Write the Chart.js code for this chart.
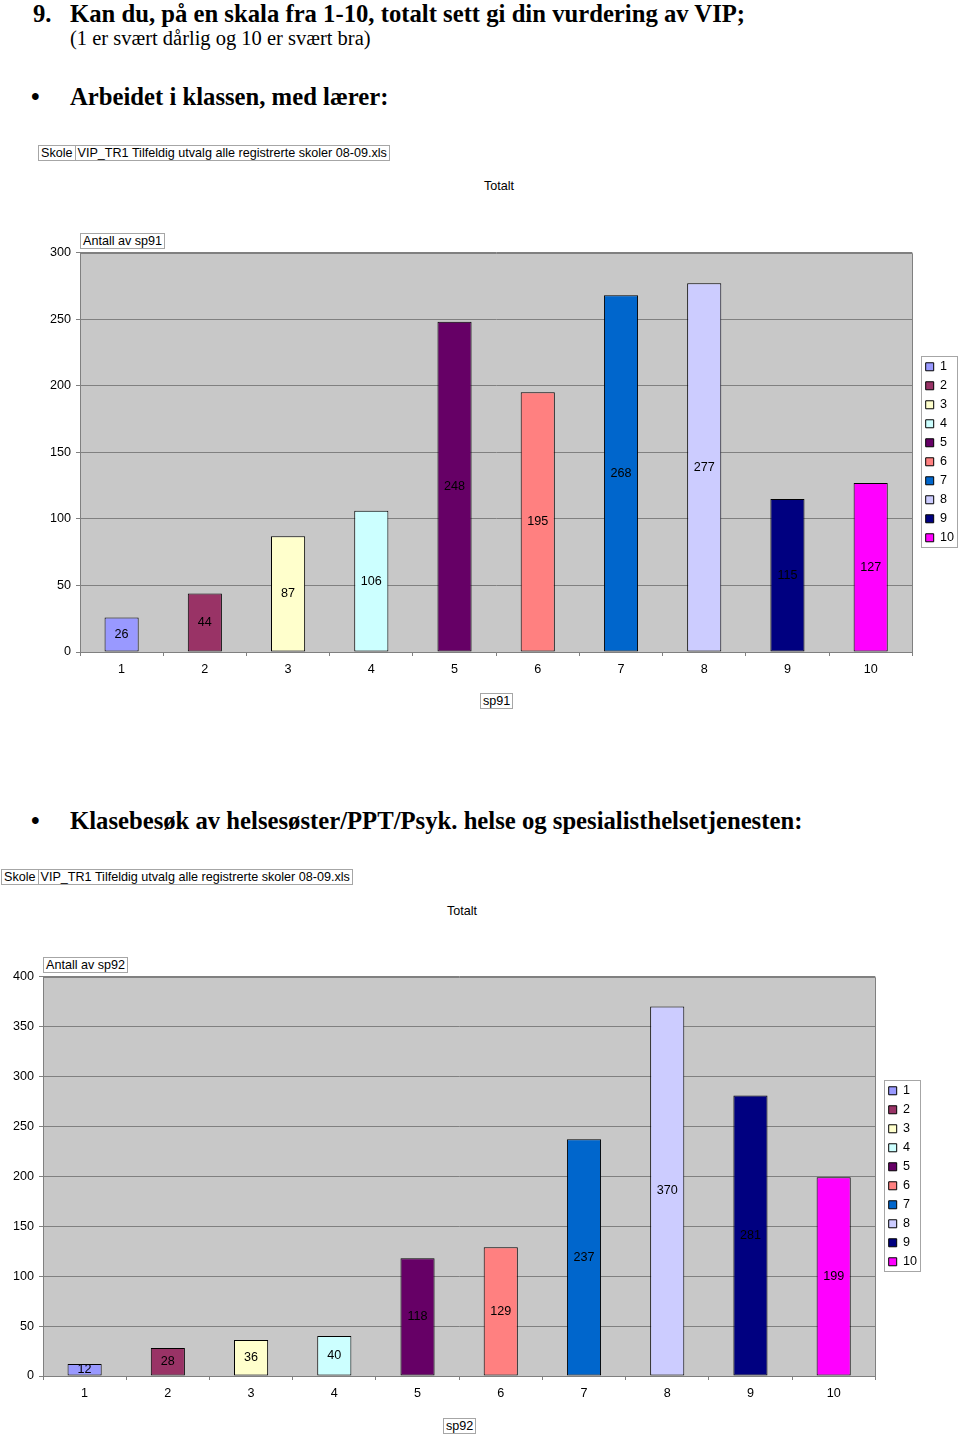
<!DOCTYPE html>
<html>
<head>
<meta charset="utf-8">
<script src="https://cdn.jsdelivr.net/npm/chart.js@4.4.1/dist/chart.umd.min.js"></script>
<style>
  html, body { margin: 0; padding: 0; background: #fff; }
  body { width: 960px; height: 1438px; position: relative; overflow: hidden;
         font-family: "Liberation Sans", Arial, sans-serif; font-size: 12.6px; color: #000; }
  .abs { position: absolute; white-space: nowrap; }
  .serif { font-family: "Liberation Serif", "Times New Roman", serif; }
  .head { font-weight: bold; font-size: 24.7px; line-height: 24px; }
  .sub { font-size: 20.5px; line-height: 20px; }
  .cell { border: 1px solid #a6a6a6; padding: 0 2px; line-height: 14px; height: 14px; background: #fff; }
  .row { display: flex; }
  .row .cell + .cell { border-left: none; }
  canvas { position: absolute; }
</style>
</head>
<body>

<div class="abs serif head" style="left:33px; top:2px;">9.</div>
<div class="abs serif head" style="left:70px; top:2px;">Kan du, på en skala fra 1-10, totalt sett gi din vurdering av VIP;</div>
<div class="abs serif sub" style="left:70px; top:28px;">(1 er svært dårlig og 10 er svært bra)</div>

<div class="abs serif head" style="left:31px; top:85px;">•</div>
<div class="abs serif head" style="left:70px; top:85px;">Arbeidet i klassen, med lærer:</div>

<div class="abs row" style="left:38px; top:145px;"><span class="cell">Skole</span><span class="cell">VIP_TR1 Tilfeldig utvalg alle registrerte skoler 08-09.xls</span></div>
<div class="abs" style="left:499px; top:179px; transform:translateX(-50%);">Totalt</div>

<canvas id="chart1" width="970" height="450" style="left:0; top:240px;"></canvas>
<div class="abs cell" style="left:80px; top:233px;">Antall av sp91</div>
<div class="abs cell" style="left:480px; top:693px;">sp91</div>

<div class="abs serif head" style="left:31px; top:809px;">•</div>
<div class="abs serif head" style="left:70px; top:809px;">Klasebesøk av helsesøster/PPT/Psyk. helse og spesialisthelsetjenesten:</div>

<div class="abs row" style="left:1px; top:869px;"><span class="cell">Skole</span><span class="cell">VIP_TR1 Tilfeldig utvalg alle registrerte skoler 08-09.xls</span></div>
<div class="abs" style="left:462px; top:904px; transform:translateX(-50%);">Totalt</div>

<canvas id="chart2" width="933" height="450" style="left:0; top:964px;"></canvas>
<div class="abs cell" style="left:43px; top:957px;">Antall av sp92</div>
<div class="abs cell" style="left:443px; top:1418px;">sp92</div>

<script>
const categories = ['1', '2', '3', '4', '5', '6', '7', '8', '9', '10'];
const sp91Values = [26, 44, 87, 106, 248, 195, 268, 277, 115, 127];
const sp92Values = [12, 28, 36, 40, 118, 129, 237, 370, 281, 199];
const sp91Ticks = { max: 300, step: 50 };
const sp92Ticks = { max: 400, step: 50 };
const barColors = ['#9999ff', '#993366', '#ffffcc', '#ccffff', '#660066',
                   '#ff8080', '#0066cc', '#ccccff', '#000080', '#ff00ff'];

Chart.defaults.font.family = "'Liberation Sans', Arial, sans-serif";
Chart.defaults.font.size = 12.6;
Chart.defaults.color = '#000';

// grey plot area with a thin frame, like the Excel chart
const plotArea = {
    id: 'plotArea',
    beforeDraw(chart) {
        const { ctx, chartArea: a } = chart;
        ctx.save();
        ctx.fillStyle = '#c8c8c8';
        ctx.fillRect(a.left, a.top, a.right - a.left, a.bottom - a.top);
        ctx.restore();
    },
    afterDraw(chart) {
        const { ctx, chartArea: a } = chart;
        ctx.save();
        ctx.strokeStyle = '#808080';
        ctx.lineWidth = 1;
        ctx.beginPath();
        ctx.moveTo(a.left, Math.round(a.top) + 0.5);
        ctx.lineTo(Math.round(a.right) + 0.5, Math.round(a.top) + 0.5);
        ctx.lineTo(Math.round(a.right) + 0.5, a.bottom);
        ctx.stroke();
        ctx.restore();
    }
};

// value written in the middle of each bar
const barValues = {
    id: 'barValues',
    afterDatasetsDraw(chart) {
        const { ctx } = chart;
        ctx.save();
        ctx.font = "12.6px 'Liberation Sans', Arial, sans-serif";
        ctx.fillStyle = '#000';
        ctx.textAlign = 'center';
        ctx.textBaseline = 'middle';
        chart.data.datasets.forEach((ds, di) => {
            chart.getDatasetMeta(di).data.forEach((bar, i) => {
                const { x, y, base } = bar.getProps(['x', 'y', 'base'], true);
                ctx.fillText(ds.data[i], x, (y + base) / 2);
            });
        });
        ctx.restore();
    }
};

// frame round the legend items
const legendFrame = {
    id: 'legendFrame',
    afterDraw(chart) {
        const boxes = chart.legend && chart.legend.legendHitBoxes;
        if (!boxes || !boxes.length) return;
        const { ctx } = chart;
        const first = boxes[0], last = boxes[boxes.length - 1];
        const w = Math.max(...boxes.map(b => b.width));
        const x0 = Math.round(first.left) - 4.5, y0 = Math.round(first.top) - 3.5;
        const x1 = Math.round(first.left + w) + 3.5, y1 = Math.round(last.top + last.height) + 3.5;
        ctx.save();
        ctx.strokeStyle = '#a6a6a6';
        ctx.lineWidth = 1;
        ctx.strokeRect(x0, y0, x1 - x0, y1 - y0);
        ctx.restore();
    }
};

function makeChart(id, values, ticks, axisWidth) {
    return new Chart(document.getElementById(id), {
        type: 'bar',
        data: {
            labels: categories,
            datasets: [{
                label: 'Totalt',
                data: values,
                backgroundColor: barColors,
                borderColor: '#000',
                borderWidth: 1,
                borderSkipped: false,
                barPercentage: 0.41,
                categoryPercentage: 1
            }]
        },
        options: {
            responsive: false,
            animation: false,
            layout: { padding: { top: 12, right: 6, bottom: 0, left: 0 } },
            plugins: {
                tooltip: { enabled: false },
                title: { display: false },
                legend: {
                    position: 'right',
                    fullSize: false,
                    labels: {
                        boxWidth: 8,
                        boxHeight: 8,
                        padding: 6.4,
                        font: { size: 12.6 },
                        generateLabels: (chart) => chart.data.labels.map((lab, i) => ({
                            text: lab,
                            fillStyle: barColors[i],
                            strokeStyle: '#000',
                            lineWidth: 1,
                            hidden: false,
                            index: i
                        }))
                    },
                    onClick: () => {}
                }
            },
            scales: {
                x: {
                    grid: { drawOnChartArea: false, drawTicks: true, tickLength: 4, color: '#808080' },
                    border: { color: '#808080' },
                    ticks: { padding: 6 },
                    afterFit: (axis) => { axis.height = 38; }
                },
                y: {
                    min: 0,
                    max: ticks.max,
                    ticks: { stepSize: ticks.step, padding: 5 },
                    grid: { color: '#808080', tickLength: 4 },
                    border: { color: '#808080' },
                    afterFit: (axis) => { axis.width = axisWidth; }
                },
                gap: {
                    type: 'linear',
                    position: 'right',
                    grid: { display: false },
                    border: { display: false },
                    ticks: { display: false },
                    afterFit: (axis) => { axis.width = 7; }
                }
            }
        },
        plugins: [plotArea, barValues, legendFrame]
    });
}

makeChart('chart1', sp91Values, sp91Ticks, 80);
makeChart('chart2', sp92Values, sp92Ticks, 43);
</script>
</body>
</html>
